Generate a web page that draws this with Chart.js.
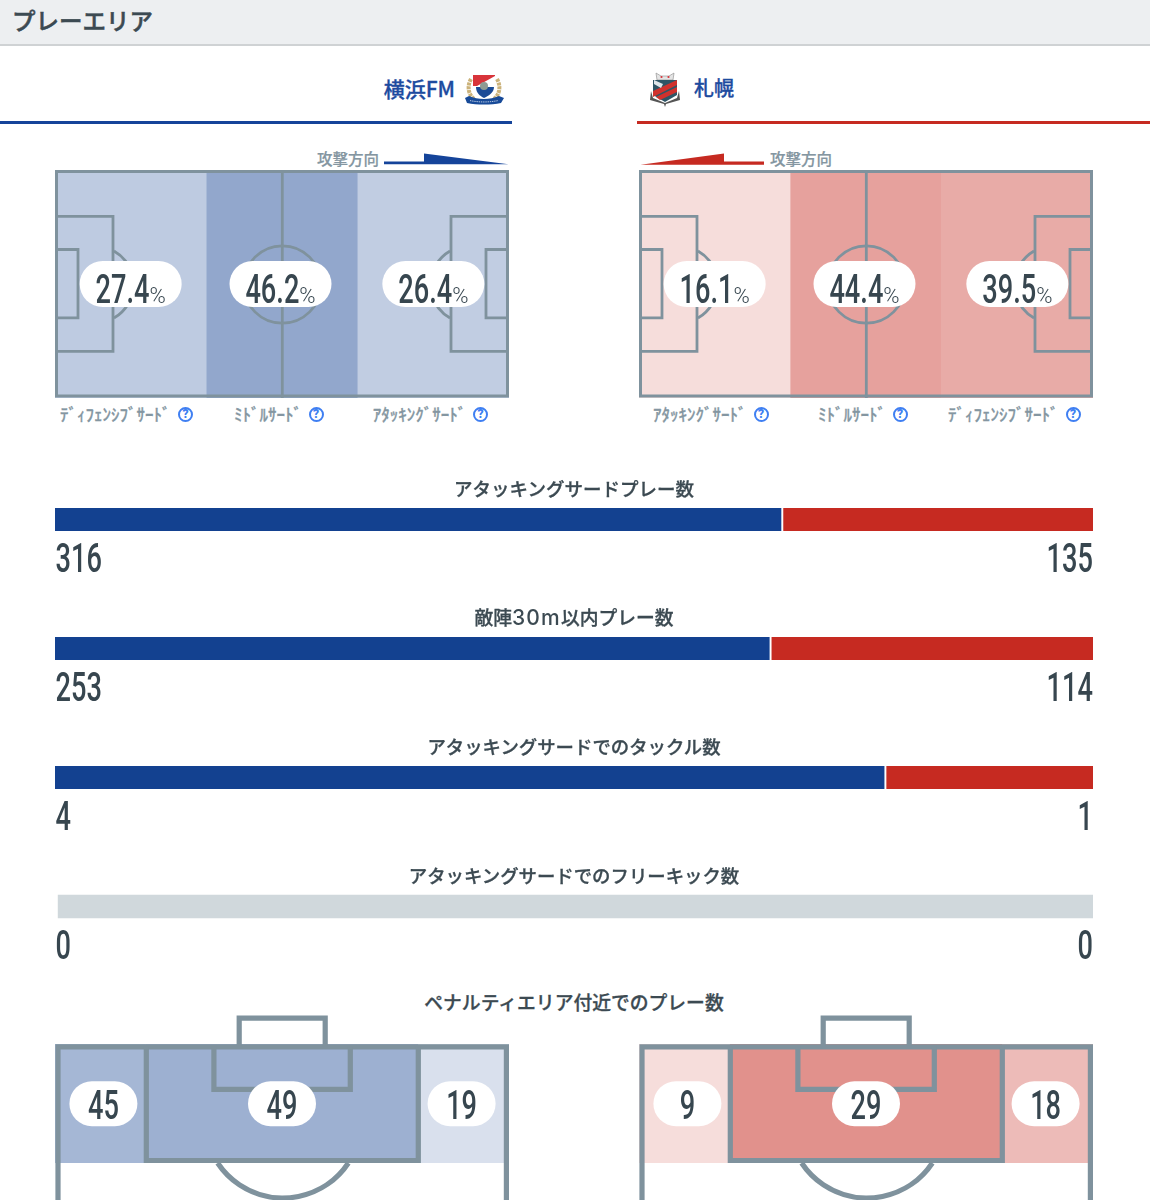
<!DOCTYPE html>
<html lang="ja">
<head>
<meta charset="utf-8">
<title>プレーエリア</title>
<script src="https://cdn.jsdelivr.net/npm/chart.js@4.4.1/dist/chart.umd.js"></script>
<style>
html, body { margin: 0; padding: 0; background: #fff; overflow: hidden; }
body { position: relative; width: 1150px; height: 1200px; font-family: "Noto Sans CJK JP", "Noto Sans", sans-serif; color: #3c4a52; }
canvas { position: absolute; display: block; }
.abs { position: absolute; white-space: nowrap; }
.topbar { left: 0; top: 0; width: 1150px; height: 44px; background: #edeff1; border-bottom: 2px solid #cfd2d4; }
.heading { left: 12px; top: 2px; font-size: 23.5px; line-height: 36px; font-weight: 500; -webkit-text-stroke: 0.5px #3c4a52; }
.team { top: 73px; font-size: 21px; line-height: 30px; font-weight: 500; color: #1d4b9f; -webkit-text-stroke: 0.3px #1d4b9f; }
.rule { top: 120.5px; height: 3px; }
.direction { top: 148px; font-size: 15.5px; line-height: 20px; color: #8496a1; font-weight: 500; -webkit-text-stroke: 0.2px #8496a1; }
.zone { top: 403px; font-size: 17px; line-height: 22px; color: #8496a1; font-weight: 500; -webkit-text-stroke: 0.3px #8496a1; }
.help { top: 407px; width: 11px; height: 11px; border: 2.6px solid #3f7ff2; border-radius: 50%; color: #3f7ff2;
        font: 900 12px/11px Roboto, sans-serif; text-align: center; }
.stat-title { left: 0; width: 1148px; text-align: center; line-height: 26px; font-weight: 500; -webkit-text-stroke: 0.3px #3c4a52; }
.stat-title span { font-family: Inter, sans-serif; font-size: 21px; letter-spacing: 1.2px; -webkit-text-stroke: 0; }
svg { position: absolute; overflow: visible; }
</style>
</head>
<body>
<div class="abs topbar"></div>
<div class="abs heading">プレーエリア</div>

<div class="abs rule" style="left:0;width:511.5px;background:#15449a"></div>
<div class="abs rule" style="left:637px;width:513px;background:#c62a21"></div>

<!-- crests -->
<svg style="left:463px;top:73px" width="42" height="33" viewBox="0 0 42 33">
  <path d="M8 6 C4 13 5 21 11 26" fill="none" stroke="#cbb27a" stroke-width="4" stroke-dasharray="3 .8"/>
  <path d="M34 6 C38 13 37 21 31 26" fill="none" stroke="#cbb27a" stroke-width="4" stroke-dasharray="3 .8"/>
  <path d="M10 2 H32 V15 C32 21 26 24 21 26 C16 24 10 21 10 15 Z" fill="#fff"/>
  <path d="M10 2 H32 L32 3 L14 13 H10 Z" fill="#d8343a"/>
  <path d="M13 14 H31 C31 20 25 23 21 25 C17 23 13 20 13 14 Z" fill="#1a4a96"/>
  <circle cx="21" cy="13" r="4" fill="#8f9b93"/>
  <path d="M2 25 L6 23 C15 27 27 27 36 23 L41 25 L38 30 C28 32 14 32 4 30 Z" fill="#174a98"/>
  <path d="M7 27.6 C16 29.4 26 29.4 35 27.6" fill="none" stroke="#c9d6ea" stroke-width=".9" stroke-dasharray="1.4 .8"/>
</svg>
<svg style="left:650px;top:71px" width="30" height="36" viewBox="0 0 30 36">
  <path d="M6 2 L11 5 H19 L24 2 L23 9 H7 Z" fill="#e4e4e4" stroke="#8a8a8a" stroke-width=".6"/>
  <circle cx="11.5" cy="6" r="1.1" fill="#d8343a"/><circle cx="18.5" cy="6" r="1.1" fill="#d8343a"/>
  <path d="M3 9 H27 V24 L15 31 L3 24 Z" fill="#2e5566"/>
  <path d="M3 20 L27 9 V14 L3 26 Z" fill="#d0312d"/>
  <path d="M6 26 L27 16 V21 L10 29 Z" fill="#d0312d"/>
  <path d="M4 9 L13 13 L11 17 L4 13 Z" fill="#dfe6ea"/>
  <path d="M1 20 L3 27 L15 32 L27 27 L29 20 L30 29 L16 33 L15 36 L14 33 L0 29 Z" fill="#555"/>
</svg>

<!-- attack direction -->
<div class="abs direction" style="left:317px">攻撃方向</div>
<svg style="left:384px;top:153px" width="125" height="12" viewBox="0 0 125 12">
  <polygon points="0,8.4 40,8.4 40,0.4 124.5,11.2 0,11.2" fill="#15449a"/>
</svg>
<div class="abs direction" style="left:770px">攻撃方向</div>
<svg style="left:640px;top:153px" width="125" height="12" viewBox="0 0 125 12">
  <polygon points="124,8.6 84,8.6 84,0.4 0.5,11.8 124,11.8" fill="#c62a21"/>
</svg>

<canvas id="home-pitch" width="454" height="228" style="left:55px;top:170px"></canvas>
<canvas id="away-pitch" width="454" height="228" style="left:639px;top:170px"></canvas>
<canvas id="compare" width="1038" height="516" style="left:55px;top:455px"></canvas>
<canvas id="home-box" width="454" height="185" style="left:55px;top:1015px"></canvas>
<canvas id="away-box" width="454" height="185" style="left:639px;top:1015px"></canvas>

<script>
// Team names
const homeTeam = '横浜FM';
const awayTeam = '札幌';

// Play area shares (%)
const homeZones = ['ﾃﾞｨﾌｪﾝｼﾌﾞｻｰﾄﾞ', 'ﾐﾄﾞﾙｻｰﾄﾞ', 'ｱﾀｯｷﾝｸﾞｻｰﾄﾞ'];
const awayZones = ['ｱﾀｯｷﾝｸﾞｻｰﾄﾞ', 'ﾐﾄﾞﾙｻｰﾄﾞ', 'ﾃﾞｨﾌｪﾝｼﾌﾞｻｰﾄﾞ'];
const homeZoneShare = [27.4, 46.2, 26.4];
const awayZoneShare = [16.1, 44.4, 39.5];

// Head to head counts
const statTitles = [
    'アタッキングサードプレー数',
    '敵陣30m以内プレー数',
    'アタッキングサードでのタックル数',
    'アタッキングサードでのフリーキック数'
];
const homeStats = [316, 253, 4, 0];
const awayStats = [135, 114, 1, 0];

// Plays around the penalty area
const boxTitle = 'ペナルティエリア付近でのプレー数';
const boxZones = ['左', '中央', '右'];
const homeBox = [45, 49, 19];
const awayBox = [9, 29, 18];
// Zone edges, in fifths of the pitch width
const boxZoneStart = [0, 1, 4];
const boxZoneEnd = [1, 4, 5];

const BLUE = '19, 65, 144';
const RED = '198, 42, 33';
const LINE = '#7f929d';
const INK = '#37464f';
const NARROW = 0.68;

function addText(className, text, style) {
    const el = document.createElement('div');
    el.className = 'abs ' + className;
    el.textContent = text;
    Object.assign(el.style, style);
    document.body.appendChild(el);
    return el;
}

// Oswald is not available, so squeeze Roboto to get the same tall digits
function drawNarrow(ctx, text, x, baseline, align) {
    ctx.save();
    ctx.translate(x, baseline);
    ctx.scale(NARROW, 1);
    ctx.font = '500 40px Roboto';
    ctx.fillStyle = INK;
    ctx.textAlign = align;
    ctx.textBaseline = 'alphabetic';
    ctx.fillText(text, 0, 0);
    ctx.restore();
}

function narrowWidth(ctx, text) {
    ctx.save();
    ctx.font = '500 40px Roboto';
    const w = ctx.measureText(text).width * NARROW;
    ctx.restore();
    return w;
}

function drawPill(ctx, cx, cy, w, h) {
    ctx.beginPath();
    ctx.roundRect(cx - w / 2, cy - h / 2, w, h, h / 2);
    ctx.fillStyle = '#fff';
    ctx.fill();
}

function stroke(ctx, width, path) {
    ctx.beginPath();
    ctx.lineWidth = width;
    ctx.strokeStyle = LINE;
    path();
    ctx.stroke();
}

// Markings of the full pitch
function drawPitchLines(ctx, w, h) {
    stroke(ctx, 2.8, () => {
        ctx.moveTo(w / 2 + 0.3, 0);
        ctx.lineTo(w / 2 + 0.3, h);
    });
    stroke(ctx, 2.8, () => ctx.arc(w / 2 + 0.3, 114.5, 38.7, 0, Math.PI * 2));
    [[0, 1], [w, -1]].forEach(([x0, dir]) => {
        stroke(ctx, 2.8, () => {
            ctx.moveTo(x0, 46.3);
            ctx.lineTo(x0 + dir * 58, 46.3);
            ctx.lineTo(x0 + dir * 58, 181.3);
            ctx.lineTo(x0, 181.3);
        });
        stroke(ctx, 2.8, () => {
            ctx.moveTo(x0, 79.5);
            ctx.lineTo(x0 + dir * 23, 79.5);
            ctx.lineTo(x0 + dir * 23, 147.8);
            ctx.lineTo(x0, 147.8);
        });
        stroke(ctx, 2.8, () => {
            const mid = dir > 0 ? 0 : Math.PI;
            ctx.arc(x0 + dir * 39.7, 114.5, 38.7, mid - 1.05, mid + 1.05);
        });
    });
    ctx.lineWidth = 3;
    ctx.strokeStyle = LINE;
    ctx.strokeRect(1.5, 1.5, w - 3, h - 3.5);
}

const pitchPlugin = {
    id: 'pitchPlugin',
    afterDatasetsDraw(chart) {
        const ctx = chart.ctx;
        const shares = chart.data.datasets[0].shares;
        ctx.save();
        drawPitchLines(ctx, chart.width, chart.height);
        shares.forEach((share, i) => {
            const cx = chart.scales.x.getPixelForValue(i) + (i === 1 ? -1.5 : 0);
            drawPill(ctx, cx, 114, 102, 46);
            const label = share.toFixed(1);
            ctx.font = '300 22px Roboto';
            const unitWidth = ctx.measureText('%').width;
            const width = narrowWidth(ctx, label);
            const left = cx - (width + unitWidth) / 2;
            drawNarrow(ctx, label, left, 133.3, 'left');
            ctx.font = '300 22px Roboto';
            ctx.fillStyle = INK;
            ctx.textAlign = 'left';
            ctx.fillText('%', left + width, 133.3);
        });
        ctx.restore();
    }
};

function drawPitch(id, zones, shares, rgb) {
    new Chart(document.getElementById(id), {
        type: 'bar',
        data: {
            labels: zones,
            datasets: [{
                data: zones.map(() => [0, 1]),
                shares: shares,
                // shade follows the share
                backgroundColor: shares.map(s => `rgba(${rgb}, ${s / 100})`),
                borderWidth: 0,
                inflateAmount: 0,
                categoryPercentage: 1,
                barPercentage: 1
            }]
        },
        options: {
            responsive: false,
            animation: false,
            events: [],
            scales: {
                x: { display: false },
                y: { display: false, min: 0, max: 1 }
            },
            plugins: { legend: { display: false }, tooltip: { enabled: false } }
        },
        plugins: [pitchPlugin]
    });
}

const valuePlugin = {
    id: 'valuePlugin',
    afterDatasetsDraw(chart) {
        const ctx = chart.ctx;
        statTitles.forEach((title, i) => {
            const y = chart.scales.y.getPixelForValue(i) + 52.5;
            drawNarrow(ctx, String(homeStats[i]), 0.5, y, 'left');
            drawNarrow(ctx, String(awayStats[i]), chart.width, y, 'right');
        });
    }
};

function drawCompare() {
    const split = homeStats.map((v, i) => v / (v + awayStats[i] || 1));
    const common = {
        grouped: false,
        borderSkipped: false,
        borderColor: '#fff',
        barThickness: 23
    };
    new Chart(document.getElementById('compare'), {
        type: 'bar',
        data: {
            labels: statTitles,
            datasets: [
                {
                    ...common,
                    data: split.map((s, i) => homeStats[i] + awayStats[i] ? [0, s] : null),
                    backgroundColor: `rgb(${BLUE})`,
                    borderWidth: { right: 1.3 }
                },
                {
                    ...common,
                    data: split.map((s, i) => homeStats[i] + awayStats[i] ? [s, 1] : null),
                    backgroundColor: `rgb(${RED})`,
                    borderWidth: { left: 1.3 }
                },
                {
                    // no events at all: grey track
                    ...common,
                    data: split.map((s, i) => homeStats[i] + awayStats[i] ? null : [0.003, 1]),
                    backgroundColor: '#d0d8dc',
                    borderWidth: 0
                }
            ]
        },
        options: {
            indexAxis: 'y',
            responsive: false,
            animation: false,
            events: [],
            scales: {
                x: { display: false, min: 0, max: 1 },
                y: { display: false }
            },
            plugins: { legend: { display: false }, tooltip: { enabled: false } }
        },
        plugins: [valuePlugin]
    });
}

// Markings of the goal end
function drawBoxLines(ctx, w) {
    stroke(ctx, 5.2, () => {
        ctx.moveTo(3, 185);
        ctx.lineTo(3, 31.8);
        ctx.lineTo(w - 2.6, 31.8);
        ctx.lineTo(w - 2.6, 185);
    });
    stroke(ctx, 5.2, () => {
        ctx.moveTo(91.3, 31.8);
        ctx.lineTo(91.3, 145.5);
        ctx.lineTo(363.3, 145.5);
        ctx.lineTo(363.3, 31.8);
    });
    stroke(ctx, 5.2, () => {
        ctx.moveTo(158.9, 31.8);
        ctx.lineTo(158.9, 74.3);
        ctx.lineTo(295.3, 74.3);
        ctx.lineTo(295.3, 31.8);
    });
    stroke(ctx, 5.2, () => {
        ctx.moveTo(184.2, 31.8);
        ctx.lineTo(184.2, 3.2);
        ctx.lineTo(270.2, 3.2);
        ctx.lineTo(270.2, 31.8);
    });
    stroke(ctx, 5.2, () => ctx.arc(228, 104.5, 78.5, 0.587, Math.PI - 0.587));
}

const boxPlugin = {
    id: 'boxPlugin',
    afterDatasetsDraw(chart) {
        const ctx = chart.ctx;
        const counts = chart.options.counts;
        const nudge = [3, 0, -2];
        ctx.save();
        drawBoxLines(ctx, chart.width);
        counts.forEach((count, i) => {
            const centre = (boxZoneStart[i] + boxZoneEnd[i]) / 2;
            const cx = chart.scales.x.getPixelForValue(centre) + nudge[i];
            drawPill(ctx, cx, 88.7, 68, 45);
            drawNarrow(ctx, String(count), cx, 104.3, 'center');
        });
        ctx.restore();
    }
};

function drawBox(id, counts, rgb, depth) {
    const total = counts.reduce((a, b) => a + b, 0);
    new Chart(document.getElementById(id), {
        type: 'bar',
        data: {
            labels: [''],
            datasets: counts.map((count, i) => ({
                label: boxZones[i],
                data: [[boxZoneStart[i], boxZoneEnd[i]]],
                backgroundColor: `rgba(${rgb}, ${depth * count / total})`,
                borderWidth: 0,
                inflateAmount: 0,
                grouped: false,
                categoryPercentage: 1,
                barPercentage: 1
            }))
        },
        options: {
            indexAxis: 'y',
            responsive: false,
            animation: false,
            events: [],
            counts: counts,
            layout: { padding: { top: 29, bottom: 37 } },
            scales: {
                x: { display: false, min: 0, max: 5 },
                y: { display: false }
            },
            plugins: { legend: { display: false }, tooltip: { enabled: false } }
        },
        plugins: [boxPlugin]
    });
}

// Text around the charts
addText('team', homeTeam, { right: '695px' });
addText('team', awayTeam, { left: '694px', fontSize: '20px' });

const zoneLabelLeft = { home: [60, 234, 372.7], away: [653, 818, 948] };
const helpLeft = { home: [178, 308.5, 473], away: [753.5, 892.5, 1065.5] };

[[homeZones, 'home'], [awayZones, 'away']].forEach(([zones, side]) => {
    zones.forEach((zone, i) => {
        addText('zone', zone, { left: zoneLabelLeft[side][i] + 'px' });
        addText('help', '?', { left: helpLeft[side][i] + 'px' });
    });
});

const titleSizes = ['18.5px', '18.8px', '18.4px', '18.4px'];
statTitles.forEach((title, i) => {
    const el = addText('stat-title', title, { top: (475 + 129 * i) + 'px', fontSize: titleSizes[i] });
    el.innerHTML = title.replace(/[0-9a-z]+/, '<span>$&</span>');
});
addText('stat-title', boxTitle, { top: '989px', fontSize: '18.8px' });

drawPitch('home-pitch', homeZones, homeZoneShare, BLUE);
drawPitch('away-pitch', awayZones, awayZoneShare, RED);
drawCompare();
drawBox('home-box', homeBox, BLUE, 0.96);
drawBox('away-box', awayBox, RED, 1);
</script>
</body>
</html>
